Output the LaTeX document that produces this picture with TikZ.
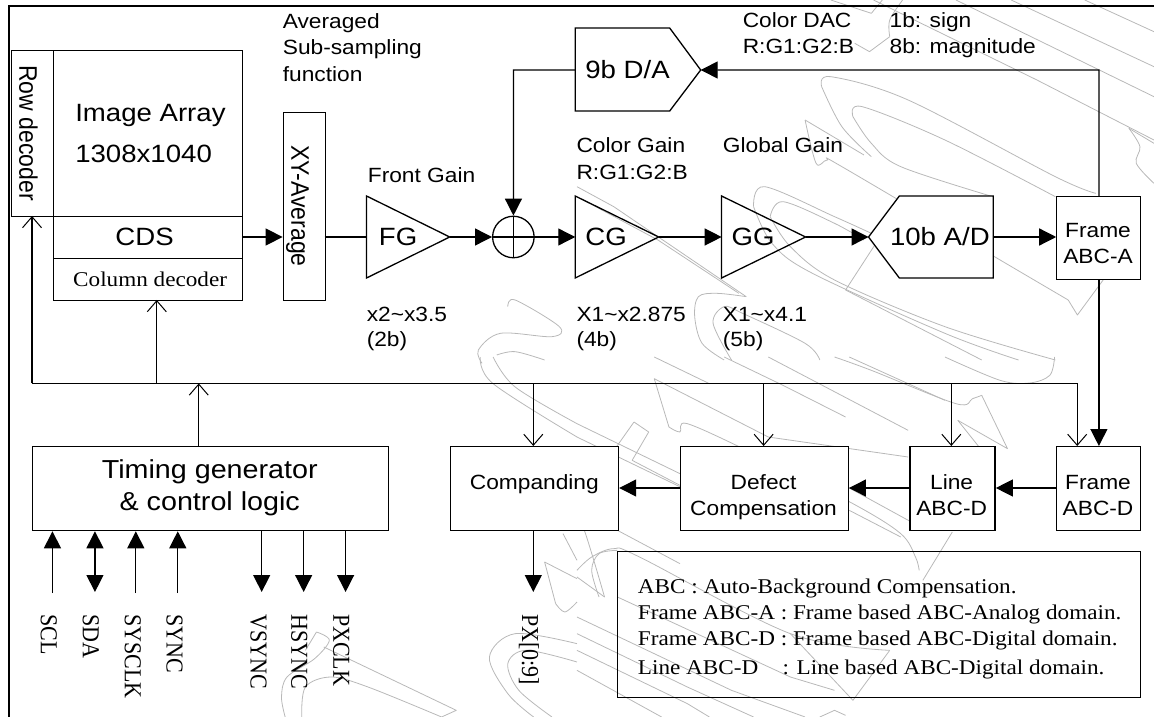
\documentclass[tikz,border=0pt]{standalone}
\usepackage{fontspec}
\setmainfont{Liberation Serif}
\setsansfont{Liberation Sans}
\usetikzlibrary{arrows.meta}
\newcommand{\fsz}[1]{\fontsize{#1}{#1}\selectfont}
\newcommand{\wmc}[1]{\draw[wms] plot[smooth,tension=.55] coordinates {#1};}
\tikzset{
  every node/.style={transform shape},
  ln/.style={line width=1.3pt,black,line join=miter},
  thinln/.style={line width=1.1pt,black},
  box/.style={draw=black,line width=1.3pt,fill=white,inner sep=0pt,align=center},
  sig/.style={ln,-{Triangle[length=17pt,width=17pt]}},
  sigb/.style={ln,{Triangle[length=17pt,width=17pt]}-{Triangle[length=17pt,width=17pt]}},
  ctl/.style={thinln,-{Straight Barb[length=11pt,width=19pt,line width=1pt]}},
  lab/.style={anchor=base west,inner sep=0pt,font=\sffamily\fsz{20.6}},
  big/.style={anchor=base west,inner sep=0pt,font=\sffamily\fsz{25}},
  rot/.style={anchor=base west,inner sep=0pt,rotate=-90,font=\sffamily\fsz{23}},
  srot/.style={anchor=base west,inner sep=0pt,rotate=-90,font=\rmfamily\fsz{22}},
  leg/.style={anchor=base west,inner sep=0pt,font=\rmfamily\fsz{21}},
  wms/.style={draw=black!28,line width=.8pt,line join=round},
  zA/.style={shift={(0,0)},scale=.33333},
  zB/.style={shift={(522.6,0)},scale=.33333},
  zC/.style={shift={(0,357)},scale=.33333},
  zD/.style={shift={(522.6,357)},scale=.33333}
}
\begin{document}
\begin{tikzpicture}[xscale=1.104,x=1pt,y=-1pt]
\useasboundingbox (0,0) rectangle (1045.3,717);
% ---------- watermark ----------
\begin{scope}[zA]
\wmc{(1380,920)(1400,900)(1520,980)(1500,1010)(1360,1000)(1300,1050)(1310,1090)}
\wmc{(1350,1065)(1400,1055)(1480,1080)}
\end{scope}
\begin{scope}[zC]
\wmc{(1305,0)(1340,80)(1568,240)}
\wmc{(1340,0)(1400,90)(1568,200)}
\wmc{(1568,860)(1400,830)(1330,900)(1380,1010)(1450,1080)}
\wmc{(1568,915)(1430,880)(1380,920)(1410,1000)(1500,1080)}
\wmc{(860,825)(895,850)(855,905)(780,960)(765,1020)(775,1080)}
\draw[wms] (860,825) -- (830,880);
\draw[wms] (880,870) -- (1240,1060) -- (1200,1080);
\wmc{(820,1080)(830,990)(900,960)(1000,990)(1200,1080)}
\draw[wms] (1480,615) -- (1510,740);
\wmc{(1510,740)(1535,765)(1568,735)}
\draw[wms] (1480,615) -- (1568,665);
\wmc{(1530,530)(1568,610)}
\end{scope}
\begin{scope}[zD]
\draw[wms] (0,240) -- (300,400);
\draw[wms] (0,200) -- (280,350);
\draw[wms] (210,65) -- (250,210);
\wmc{(250,210)(280,225)(300,200)(480,290)(750,440)(880,530)(920,600)(930,640)}
\draw[wms] (940,670) -- (1020,525);
\draw[wms] (210,65) -- (520,240) -- (900,300);
\draw[wms] (155,195) -- (195,225) -- (150,310) -- (280,385);
\draw[wms] (155,195) -- (75,320);
\wmc{(0,505)(20,520)(75,720)}
\wmc{(0,660)(75,720)}
\wmc{(0,640)(40,600)(100,575)(170,600)(580,830)(850,880)}
\wmc{(60,720)(40,640)(60,590)(110,580)}
\draw[wms] (735,390) -- (950,520);
\draw[wms] (740,460) -- (880,540);
\draw[wms] (110,520) -- (280,620);
\draw[wms] (0,780) -- (420,1000) -- (620,1080);
\draw[wms] (0,830) -- (300,990) -- (480,1080);
\draw[wms] (0,880) -- (300,1040) -- (360,1080);
\draw[wms] (0,940) -- (230,1080);
\draw[wms] (110,720) -- (580,960) -- (700,1000);
\draw[wms] (660,1080) -- (700,1060) -- (730,1075);
\draw[wms] (750,1030) -- (850,880);
\draw[wms] (580,830) -- (750,1030);
\draw[wms] (1035,190) -- (1170,275) -- (1100,115);
\draw[wms] (1035,190) -- (1100,280);
\wmc{(1100,115)(1075,125)(1030,140)(800,40)(700,0)}
\wmc{(1298,0)(1285,55)(1230,78)(1150,70)(1000,0)}
\draw[wms] (400,0) -- (560,85) -- (730,180);
\draw[wms] (520,0) -- (900,220);
\draw[wms] (740,0) -- (1000,130);
\draw[wms] (210,0) -- (360,80);
\end{scope}
\begin{scope}[zB]
\draw[wms] (620,360) -- (780,465);
\wmc{(620,360)(650,490)(680,480)(720,500)(1150,780)(1335,900)}
\draw[wms] (1335,900) -- (1360,945) -- (1430,840);
\wmc{(665,260)(690,230)(900,300)(1300,530)(1410,580)}
\wmc{(665,260)(720,380)(800,470)}
\wmc{(750,350)(775,320)(1000,420)(1300,590)}
\wmc{(750,350)(800,430)(880,500)(1130,590)}
\wmc{(480,620)(510,560)(700,650)(800,700)}
\wmc{(480,620)(530,730)(640,820)(1000,1000)(1200,1080)}
\wmc{(525,650)(560,605)(700,670)(780,720)}
\wmc{(525,650)(580,740)(700,840)(1000,980)(1300,1080)}
\draw[wms] (0,560) -- (100,620) -- (460,890);
\wmc{(460,890)(380,880)(330,890)(320,950)(340,1030)(400,1080)}
\draw[wms] (0,590) -- (220,720) -- (440,880);
\wmc{(660,1080)(620,1030)(450,940)(400,920)(370,970)(420,1080)}
\draw[wms] (730,870) -- (830,700);
\draw[wms] (730,870) -- (1100,1080);
\draw[wms] (690,0) -- (800,40) -- (830,0);
\draw[wms] (755,130) -- (795,155) -- (850,110);
\wmc{(850,110)(850,60)(885,0)}
\draw[wms] (806,0) -- (880,40) -- (1250,240) -- (1568,420);
\draw[wms] (1030,0) -- (1568,290);
\draw[wms] (1180,0) -- (1568,200);
\draw[wms] (1380,0) -- (1568,95);
\wmc{(1500,385)(1530,440)(1520,490)(1568,550)}
\draw[wms] (1500,385) -- (1568,430);
\end{scope}
% ---------- frame ----------
\coordinate (fa) at (8,717);
\coordinate (fb) at (8,6);
\coordinate (fc) at (1045.3,6);
\draw[black,line width=1.8pt] (fa) -- (fb) -- (fc);
% ---------- nodes ----------
\node[box,anchor=north west,minimum width=38pt,minimum height=166pt] (row) at (10,50) {};
\node[box,anchor=north west,minimum width=171pt,minimum height=166pt] (img) at (48,50) {};
\node[box,anchor=north west,minimum width=171pt,minimum height=42pt] (cds) at (48,216) {};
\node[box,anchor=north west,minimum width=171pt,minimum height=42pt] (col) at (48,258) {};
\node[box,anchor=north west,minimum width=38pt,minimum height=188pt] (xy) at (256,112) {};
\node[rot] (rowt) at (17.5,65) {Row decoder};
\node[big] (imgt) at (68,122) {Image Array};
\node[big] (imgu) at (68,163) {1308x1040};
\node[big,anchor=base] (cdst) at (131,246) {CDS};
\node[leg,anchor=base] (colt) at (136,287) {Column decoder};
\node[rot] (xyt) at (264,145) {XY-Average};
\node[lab] (avg1) at (256,29) {Averaged};
\node[lab] (avg2) at (256,55) {Sub-sampling};
\node[lab] (avg3) at (256,82) {function};
% gain stages
\coordinate (fgL) at (332,237);
\coordinate (fgR) at (407.3,237);
\draw[ln] (332,196) -- (fgR) -- (332,278) -- cycle;
\node[big] (fgt) at (343,246) {FG};
\coordinate (cgL) at (521,237);
\coordinate (cgR) at (596.6,237);
\draw[ln] (521,196) -- (cgR) -- (521,278) -- cycle;
\node[big] (cgt) at (530,246) {CG};
\coordinate (ggL) at (653.6,237);
\coordinate (ggR) at (729.6,237);
\draw[ln] (653.6,196) -- (ggR) -- (653.6,278) -- cycle;
\node[big] (ggt) at (662.6,246) {GG};
% sum
\node[circle,draw=black,line width=1.3pt,minimum size=41.5pt,inner sep=0pt,xscale=.906] (sum) at (465,237) {};
\draw[ln] (sum.north) -- (sum.south);
\draw[ln] (sum.west) -- (sum.east);
% D/A
\coordinate (daL) at (521,70);
\coordinate (daR) at (634.6,70);
\draw[ln,fill=white] (521,28) -- (606.6,28) -- (daR) -- (606.6,111) -- (521,111) -- cycle;
\node[big] (dat) at (530,79) {9b D/A};
% A/D
\coordinate (adL) at (786.6,237);
\coordinate (adR) at (899.6,237);
\draw[ln,fill=white] (adL) -- (814.6,196) -- (899.6,196) -- (899.6,278) -- (814.6,278) -- cycle;
\node[big] (adt) at (806,246) {10b A/D};
% right boxes
\node[box,anchor=north west,minimum width=76pt,minimum height=83pt] (fa1) at (956.6,196) {};
\node[lab,anchor=base] (fa1a) at (994.6,237) {Frame};
\node[lab,anchor=base] (fa1b) at (994.6,264) {ABC-A};
\node[box,anchor=north west,minimum width=76pt,minimum height=84pt] (fd) at (956.6,446) {};
\node[lab,anchor=base] (fda) at (994.6,489) {Frame};
\node[lab,anchor=base] (fdb) at (994.6,515) {ABC-D};
\node[box,anchor=north west,minimum width=77pt,minimum height=84pt] (ld) at (823.6,446) {};
\node[lab,anchor=base] (lda) at (862,489) {Line};
\node[lab,anchor=base] (ldb) at (862,515) {ABC-D};
\node[box,anchor=north west,minimum width=152pt,minimum height=84pt] (def) at (615.6,446) {};
\node[lab,anchor=base] (defa) at (691.6,489) {Defect};
\node[lab,anchor=base] (defb) at (691.6,515) {Compensation};
\node[box,anchor=north west,minimum width=152pt,minimum height=84pt] (cmp) at (407.5,446) {};
\node[lab,anchor=base] (cmpa) at (484,489) {Companding};
\node[box,anchor=north west,minimum width=322pt,minimum height=84pt] (tim) at (29,446) {};
\node[big,font=\sffamily\fsz{26},anchor=base] (tima) at (190,478) {Timing generator};
\node[big,font=\sffamily\fsz{26},anchor=base] (timb) at (190,510) {\& control logic};
% legend
\node[draw=black,line width=1.3pt,anchor=north west,minimum width=474pt,minimum height=146pt,inner sep=0pt] (legbox) at (558.6,551) {};
\node[leg] (l1) at (577.6,593) {ABC : Auto-Background Compensation.};
\node[leg] (l2) at (577.6,619) {Frame ABC-A : Frame based ABC-Analog domain.};
\node[leg] (l3) at (577.6,645) {Frame ABC-D : Frame based ABC-Digital domain.};
\node[leg] (l4) at (577.6,674) {\makebox[131pt][l]{Line ABC-D}: Line based ABC-Digital domain.};
% labels
\node[lab] (fgl) at (333,183) {Front Gain};
\node[lab] (fgv1) at (332,322) {x2\textasciitilde x3.5};
\node[lab] (fgv2) at (332,346) {(2b)};
\node[lab] (cgl1) at (522,153) {Color Gain};
\node[lab] (cgl2) at (522,180) {R:G1:G2:B};
\node[lab] (cgv1) at (522,322) {X1\textasciitilde x2.875};
\node[lab] (cgv2) at (522,346) {(4b)};
\node[lab] (ggl) at (654.6,153) {Global Gain};
\node[lab] (ggv1) at (654.6,322) {X1\textasciitilde x4.1};
\node[lab] (ggv2) at (654.6,346) {(5b)};
\node[lab] (dac1) at (672.6,28) {Color DAC};
\node[lab] (dac2) at (672.6,54) {R:G1:G2:B};
\node[lab] (sgn1) at (805.6,28) {1b: sign};
\node[lab] (sgn2) at (805.6,54) {8b: magnitude};
% ---------- connectors ----------
\coordinate (cdsE) at (219,237);
\draw[sig] (cdsE) -- (256,237);
\draw[ln] (294,237) -- (fgL);
\draw[sig] (fgR) -- (sum.west);
\draw[sig] (sum.east) -- (cgL);
\draw[sig] (cgR) -- (ggL);
\draw[sig] (ggR) -- (adL);
\draw[sig] (adR) -- (fa1.west |- adR);
\coordinate (upT) at (fa1.north |- daR);
\draw[sig] (fa1.north) -- (upT) -- (daR);
\coordinate (daC) at (sum.north |- daL);
\draw[sig] (daL) -- (daC) -- (sum.north);
\draw[sig] (fa1.south) -- (fd.north);
\draw[sig] (fd.west |- 0,488) -- (ld.east |- 0,488);
\draw[sig] (ld.west |- 0,488) -- (def.east |- 0,488);
\draw[sig] (def.west |- 0,488) -- (cmp.east |- 0,488);
% bus
\coordinate (busL) at (29,383.4);
\coordinate (busR) at (975.6,383.4);
\coordinate (rowin) at (29,216);
\coordinate (colin) at (142,300);
\coordinate (c1) at (142,383.4);
\coordinate (c2) at (180,383.4);
\coordinate (c3) at (483,383.4);
\coordinate (c4) at (691.6,383.4);
\coordinate (c5) at (861.6,383.4);
\draw[thinln] (busL) -- (busR);
\draw[ctl] (busL) -- (rowin);
\draw[ctl] (c1) -- (colin);
\draw[ctl] (tim.north -| c2) -- (c2);
\draw[ctl] (c3) -- (cmp.north -| c3);
\draw[ctl] (c4) -- (def.north -| c4);
\draw[ctl] (c5) -- (ld.north -| c5);
\draw[ctl] (busR) -- (fd.north -| busR);
% signals
\foreach \nm/\x in {scl/47.5,sys/123,syn/161}{
  \coordinate (\nm) at (\x,593);
  \draw[sig] (\nm) -- (tim.south -| \nm);
}
\coordinate (sda) at (86,592);
\draw[sigb] (sda) -- (tim.south -| sda);
\foreach \nm/\x in {vsy/237,hsy/275,pxc/313}{
  \coordinate (\nm) at (\x,592);
  \draw[sig] (tim.south -| \nm) -- (\nm);
}
\coordinate (pxo) at (483,592);
\draw[sig] (cmp.south -| pxo) -- (pxo);
\node[srot] (tscl) at (37,614) {SCL};
\node[srot] (tsda) at (75,614) {SDA};
\node[srot] (tsys) at (113,614) {SYSCLK};
\node[srot] (tsyn) at (151,614) {SYNC};
\node[srot] (tvsy) at (227,614) {VSYNC};
\node[srot] (thsy) at (264,614) {HSYNC};
\node[srot] (tpxc) at (302,614) {PXCLK};
\node[srot] (tpxo) at (473,614) {PX[0:9]};
\end{tikzpicture}
\end{document}
